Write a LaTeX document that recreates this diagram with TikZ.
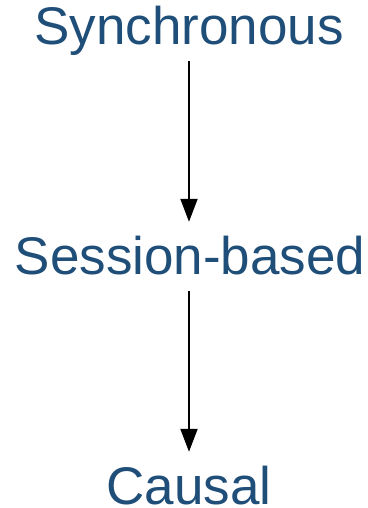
\documentclass[tikz,border=0pt]{standalone}
\usepackage{fontspec}
\setmainfont{Liberation Sans}
\usetikzlibrary{arrows.meta}
\definecolor{levelblue}{RGB}{31,78,121}

\begin{document}
\begin{tikzpicture}[
    x=1pt, y=1pt,
    every node/.style={
        text=levelblue, % Dark blue text
        font=\fontsize{53}{60}\selectfont, % Large sans-serif text
        anchor=base,
        text height=38pt,
        text depth=11pt,
        inner sep=0pt
    },
    order/.style={
        draw=black,
        line width=2pt,
        -{Triangle[length=23pt,width=17pt]},
        shorten <=5pt,
        shorten >=15pt
    }
]
\useasboundingbox (0,0) rectangle (367,508);

\node (sync) at (189,463) {Synchronous};
\node (sess) at (190,233) {Session-based};
\node[text depth=0pt] (caus) at (189,3) {Causal};

\draw[order] (sync) -- (sess.north -| sync);
\draw[order] (sess.south -| sync) -- (caus.north -| sync);
\end{tikzpicture}
\end{document}
